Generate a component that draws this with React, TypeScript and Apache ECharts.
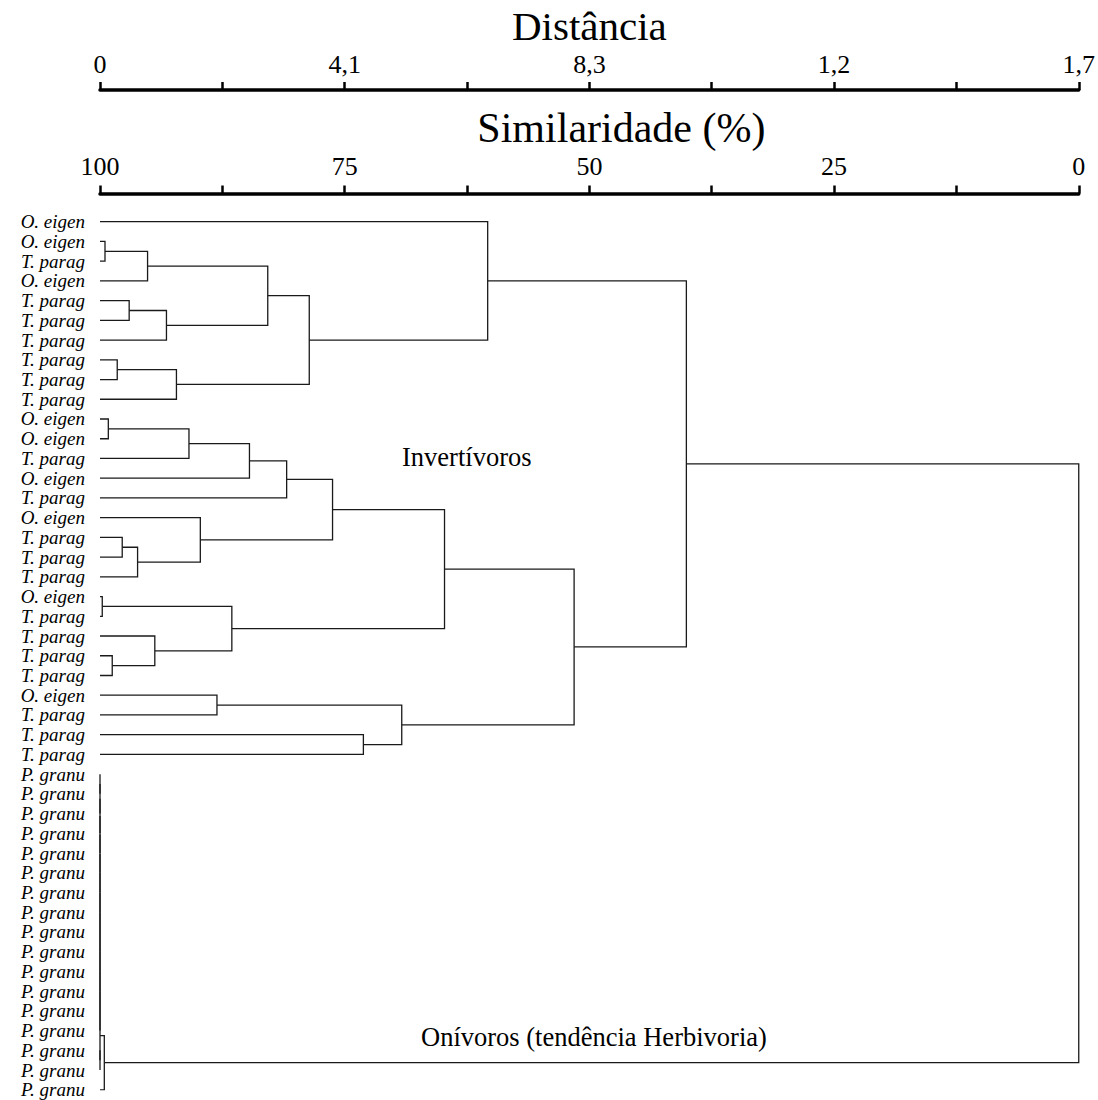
import React, { useEffect, useRef } from 'react';
import * as echarts from 'echarts';

// Leaf labels, top to bottom
const leafLabels: string[] = [
  'O. eigen', 'O. eigen', 'T. parag', 'O. eigen', 'T. parag', 'T. parag', 'T. parag', 'T. parag', 'T. parag', 'T. parag',
  'O. eigen', 'O. eigen', 'T. parag', 'O. eigen', 'T. parag', 'O. eigen', 'T. parag', 'T. parag', 'T. parag',
  'O. eigen', 'T. parag', 'T. parag', 'T. parag', 'T. parag',
  'O. eigen', 'T. parag', 'T. parag', 'T. parag',
  'P. granu', 'P. granu', 'P. granu', 'P. granu', 'P. granu', 'P. granu', 'P. granu', 'P. granu', 'P. granu',
  'P. granu', 'P. granu', 'P. granu', 'P. granu', 'P. granu', 'P. granu', 'P. granu', 'P. granu',
];

// Leaves sit at 100 % similarity
const leafSimilarity = 100;

// Merges: [child A, child B, similarity (%)]; numbers = leaf index, 'mK' = merge K
const merges: [number | string, number | string, number][] = [
  [1, 2, 99.49],        // m0
  ['m0', 3, 95.14],     // m1
  [4, 5, 97.02],        // m2
  ['m2', 6, 93.21],     // m3
  ['m1', 'm3', 82.86],  // m4
  [7, 8, 98.24],        // m5
  ['m5', 9, 92.19],     // m6
  ['m4', 'm6', 78.62],  // m7
  [0, 'm7', 60.39],     // m8
  [10, 11, 99.15],      // m9
  ['m9', 12, 90.91],    // m10
  ['m10', 13, 84.73],   // m11
  ['m11', 14, 80.93],   // m12
  [16, 17, 97.73],      // m13
  ['m13', 18, 96.16],   // m14
  [15, 'm14', 89.75],   // m15
  ['m12', 'm15', 76.24],// m16
  [19, 20, 99.77],      // m17
  [22, 23, 98.75],      // m18
  [21, 'm18', 94.4],    // m19
  ['m17', 'm19', 86.53],// m20
  ['m16', 'm20', 64.8], // m21
  [24, 25, 88.05],      // m22
  [26, 27, 73.09],      // m23
  ['m22', 'm23', 69.17],// m24
  ['m21', 'm24', 51.56],// m25
  ['m8', 'm25', 40.09], // m26
  [28, 29, 100],        // m27
  ['m27', 30, 100],     // m28
  ['m28', 31, 100],     // m29
  ['m29', 32, 100],     // m30
  ['m30', 33, 100],     // m31
  ['m31', 34, 100],     // m32
  ['m32', 35, 100],     // m33
  ['m33', 36, 100],     // m34
  ['m34', 37, 100],     // m35
  ['m35', 38, 100],     // m36
  ['m36', 39, 100],     // m37
  ['m37', 40, 100],     // m38
  ['m38', 41, 100],     // m39
  [42, 43, 100],        // m40
  ['m39', 'm40', 100],  // m41
  ['m41', 44, 99.56],   // m42
  ['m26', 'm42', 0],    // m43 (root)
];

// Axis tick labels
const similarityTicks = [100, 75, 50, 25, 0];
const similarityTickLabels = ['100', '75', '50', '25', '0'];
const distanceTickLabels = ['0', '4,1', '8,3', '1,2', '1,7'];

const FONT = "'Liberation Serif', 'Times New Roman', serif";

function buildLines() {
  const nodeY: number[] = [];
  const nodeS: number[] = [];
  const ref = (r: number | string): [number, number] => {
    if (typeof r === 'number') return [r, leafSimilarity];
    const k = parseInt(r.slice(1), 10);
    return [nodeY[k], nodeS[k]];
  };
  const out: { coords: number[][] }[] = [];
  merges.forEach(([a, b, s], i) => {
    const [ya, sa] = ref(a);
    const [yb, sb] = ref(b);
    nodeY[i] = (ya + yb) / 2;
    nodeS[i] = s;
    out.push({ coords: [[sa, ya], [s, ya], [s, yb], [sb, yb]] });
  });
  return out;
}

function tickLabel(labels: string[]) {
  return (v: number) => {
    const idx = similarityTicks.indexOf(Math.round(v * 100) / 100);
    return idx >= 0 ? labels[idx] : '';
  };
}

export default function App() {
  const ref = useRef<HTMLDivElement>(null);
  useEffect(() => {
    if (!ref.current) return;
    const chart = echarts.init(ref.current, undefined, { renderer: 'svg' });
    const axisCommon = {
      type: 'value' as const,
      position: 'top' as const,
      min: 0,
      max: 100,
      interval: 12.5,
      inverse: true,
      nameLocation: 'middle' as const,
      axisLine: { show: true, onZero: false, lineStyle: { color: '#000', width: 3.5 } },
      axisTick: { show: true, length: 8, lineStyle: { color: '#000', width: 2.5 } },
      splitLine: { show: false },
    };
    chart.setOption({
      animation: false,
      backgroundColor: '#fff',
      grid: { left: 100, right: 16, top: 221.7, bottom: 10.2, containLabel: false },
      xAxis: [
        {
          ...axisCommon,
          offset: 28.2,
          name: 'Similaridade (%)',
          nameGap: 42,
          nameTextStyle: { fontFamily: FONT, fontSize: 42, color: '#000', padding: [0, 0, 0, 64] },
          axisLabel: {
            formatter: tickLabel(similarityTickLabels),
            fontFamily: FONT, fontSize: 26, color: '#000', margin: 14,
          },
        },
        {
          ...axisCommon,
          offset: 131.7,
          name: 'Distância',
          nameGap: 41.6,
          nameTextStyle: { fontFamily: FONT, fontSize: 41, color: '#000' },
          axisLabel: {
            formatter: tickLabel(distanceTickLabels),
            fontFamily: FONT, fontSize: 26, color: '#000', margin: 12.5,
          },
        },
      ],
      yAxis: {
        type: 'value',
        min: 0,
        max: leafLabels.length - 1,
        interval: 1,
        inverse: true,
        axisLine: { show: false },
        axisTick: { show: false },
        splitLine: { show: false },
        axisLabel: {
          formatter: (v: number) => leafLabels[Math.round(v)] ?? '',
          fontFamily: FONT, fontStyle: 'italic', fontSize: 19,
          color: '#000', margin: 15,
        },
      },
      series: [
        {
          type: 'lines',
          coordinateSystem: 'cartesian2d',
          xAxisIndex: 0,
          yAxisIndex: 0,
          polyline: true,
          silent: true,
          data: buildLines(),
          lineStyle: { color: '#1a1a1a', width: 1.3, opacity: 1 },
        },
      ],
      graphic: [
        {
          type: 'text', left: 402, top: 443,
          style: { text: 'Invertívoros', fontFamily: FONT, fontSize: 26.5, fill: '#000' },
        },
        {
          type: 'text', left: 421, top: 1023,
          style: { text: 'Onívoros (tendência Herbivoria)', fontFamily: FONT, fontSize: 26.5, fill: '#000' },
        },
      ],
    });
    return () => chart.dispose();
  }, []);
  return (
    <div
      ref={ref}
      style={{ position: 'fixed', left: 0, top: 0, width: 1098, height: 1100, background: '#fff' }}
    />
  );
}
